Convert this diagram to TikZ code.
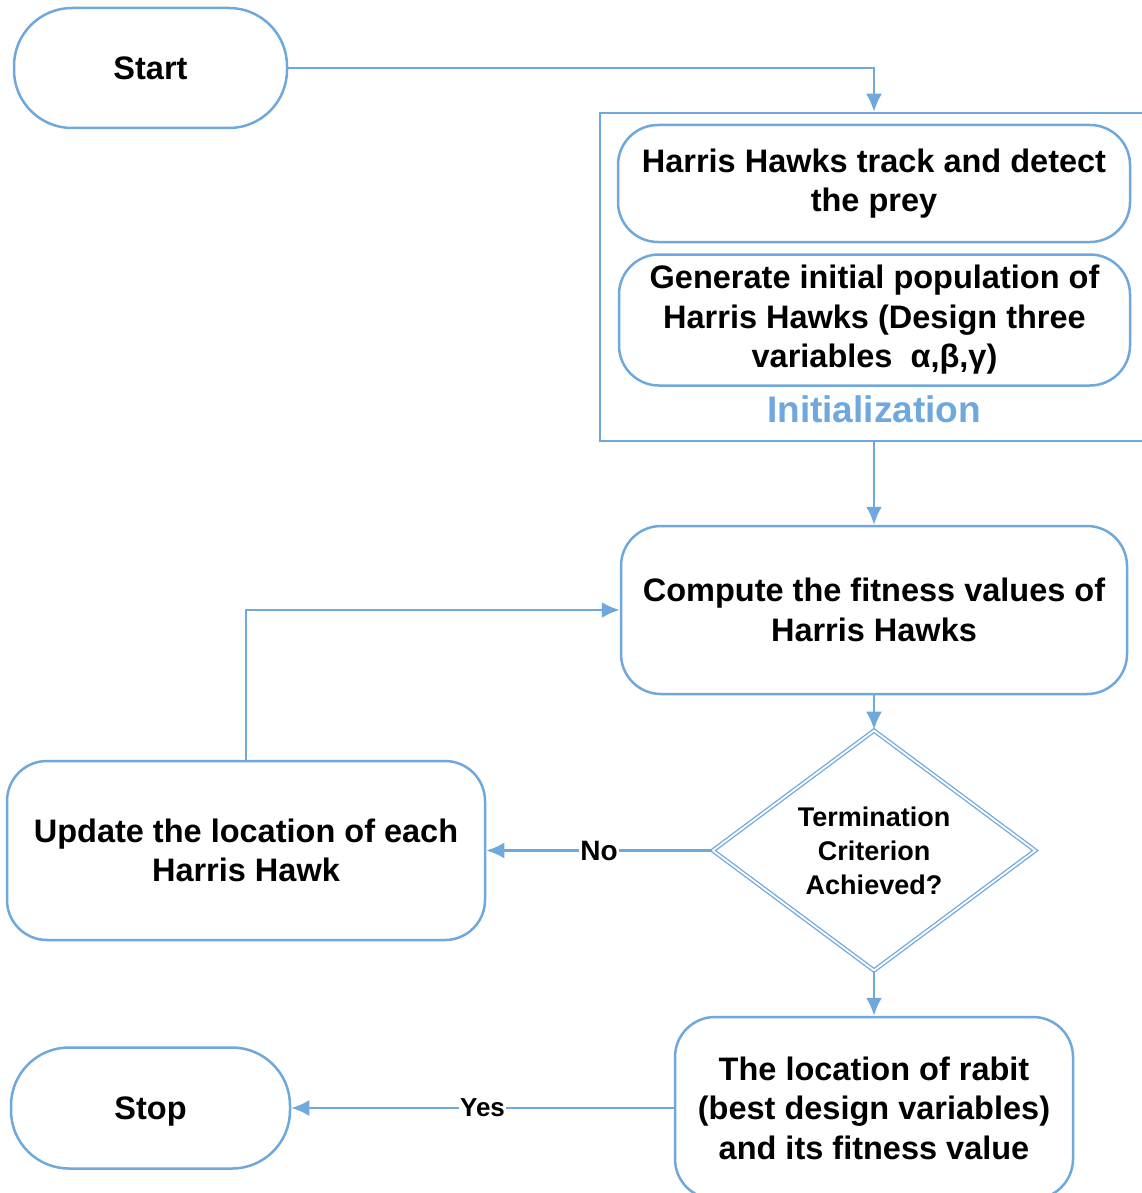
\documentclass[tikz,border=0pt]{standalone}
\usepackage{fontspec}
\setmainfont{Liberation Sans}
\usepackage{tikz}
\usetikzlibrary{positioning, calc}
\usetikzlibrary{arrows.meta, shapes.geometric}
\definecolor{hawkblue}{HTML}{6FA8DC}

\begin{document}
\begin{tikzpicture}[x=1pt, y=-1pt,
	                    every node/.style={font=\fontsize{32.5}{39.5}\selectfont\bfseries},
	                    terminal/.style={draw=hawkblue,
	                                     line width=2.5pt,
	                                     rounded corners=58pt,
	                                     text depth=0pt,
	                                     minimum width=273pt,
	                                     minimum height=120pt},
	                    process/.style={draw=hawkblue,
	                                    line width=2.5pt,
	                                    rounded corners=40pt,
	                                    align=center,
	                                    inner sep=0pt},
	                    decision/.style={diamond,
	                                     draw=hawkblue,
	                                     double=white,
	                                     double distance=1.8pt,
	                                     line width=1.3pt,
	                                     inner sep=0pt,
	                                     align=center,
	                                     minimum width=323pt,
	                                     minimum height=240pt,
	                                     font=\fontsize{27}{34}\selectfont\bfseries},
	                    post/.style={draw=hawkblue,
	                                 line width=2.5pt,
	                                 -{Latex[length=18pt,width=16pt]}},
	                    answer/.style={fill=white,
	                                   inner sep=1pt}]
	\useasboundingbox (0,0) rectangle (1141,1193);

	\node [terminal] (Start) at (150.5, 68) {Start};
	\node [draw=hawkblue, line width=2.5pt, minimum width=548pt, minimum height=328pt] (Init) at (874, 277) {};
	\node [process, minimum width=512pt, minimum height=117pt] (Track) at (874, 183.5) {Harris Hawks track and detect\\the prey};
	\node [process, minimum width=511pt, minimum height=131pt] (Generate) at (874.5, 320) {Generate initial population of\\Harris Hawks (Design three\\variables \ α,β,γ)};
	\node [text=hawkblue, font=\fontsize{37}{44}\selectfont\bfseries] (InitLabel) at (874, 409) {Initialization};

	\node [process, minimum width=506pt, minimum height=168pt] (Fitness) at (874, 610) {Compute the fitness values of\\Harris Hawks};
	\node [decision] (Check) at (874, 850.5) {Termination\\Criterion\\Achieved?};
	\node [process, minimum width=478pt, minimum height=179pt] (Update) at (246, 850.5) {Update the location of each\\Harris Hawk};
	\node [process, minimum width=398pt, minimum height=182pt] (Rabbit) at (874, 1108) {The location of rabit\\(best design variables)\\and its fitness value};
	\node [terminal, minimum width=279pt, minimum height=121pt] (Stop) at (150.5, 1108) {Stop};

	\draw [post] (Start) -| (Init);
	\draw [post] (Init) -- (Fitness);
	\draw [post] (Fitness) -- (Check);
	\draw [post] (Check) -- node[answer, font=\fontsize{28}{32}\selectfont\bfseries] (No) {No} (Update);
	\draw [post] (Update) |- (Fitness);
	\draw [post] (Check) -- (Rabbit);
	\draw [post] (Rabbit) -- node[answer, font=\fontsize{26}{30}\selectfont\bfseries] (Yes) {Yes} (Stop);
\end{tikzpicture}
\end{document}
